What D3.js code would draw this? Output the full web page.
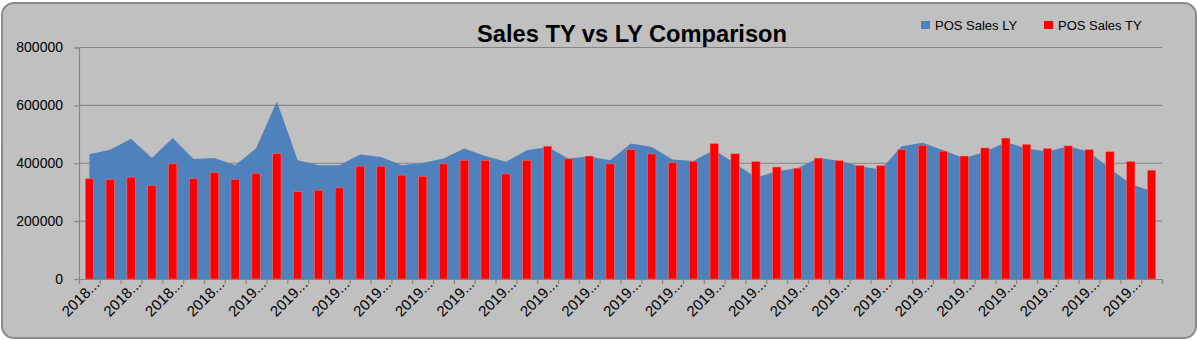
<!DOCTYPE html>
<html>
<head>
<meta charset="utf-8">
<script src="https://cdn.jsdelivr.net/npm/d3@7"></script>
<style>
  html, body { margin: 0; padding: 0; background: #ffffff; }
  svg { display: block; font-family: "Liberation Sans", Arial, sans-serif; }
</style>
</head>
<body>
<svg id="chart" width="1198" height="340"></svg>
<script>
// Weekly point-of-sale totals, this year vs last year (52 weeks)
const weekYears = [
  "2018","2018","2018","2018","2018","2018","2018","2018",
  "2019","2019","2019","2019","2019","2019","2019","2019","2019","2019",
  "2019","2019","2019","2019","2019","2019","2019","2019","2019","2019",
  "2019","2019","2019","2019","2019","2019","2019","2019","2019","2019",
  "2019","2019","2019","2019","2019","2019","2019","2019","2019","2019",
  "2019","2019","2019","2019"
];

const posSalesLY = [
  431000, 447000, 485000, 418000, 487000, 415000, 418000, 393000, 451000, 614000,
  410000, 393000, 393000, 430000, 422000, 393000, 401000, 416000, 451000, 425000,
  405000, 445000, 456000, 416000, 423000, 410000, 468000, 456000, 413000, 408000,
  447000, 399000, 351000, 372000, 383000, 418000, 409000, 390000, 378000, 459000,
  471000, 445000, 417000, 440000, 473000, 451000, 441000, 459000, 439000, 382000,
  328000, 303000
];

const posSalesTY = [
  347000, 344000, 352000, 324000, 398000, 347000, 368000, 344000, 365000, 434000,
  302000, 307000, 315000, 390000, 390000, 359000, 355000, 398000, 410000, 410000,
  363000, 410000, 459000, 415000, 425000, 398000, 447000, 432000, 403000, 406000,
  468000, 433000, 406000, 387000, 383000, 418000, 409000, 392000, 392000, 447000,
  462000, 442000, 425000, 453000, 487000, 465000, 451000, 460000, 447000, 440000,
  406000, 376000
];

const yTicks = [0, 200000, 400000, 600000, 800000];
const seriesNames = ["POS Sales LY", "POS Sales TY"];
const seriesColors = ["#4f81bd", "#ff0000"];
const chartTitle = "Sales TY vs LY Comparison";

const svg = d3.select("#chart");
const W = 1198, H = 340;
const plot = { left: 79, right: 1162, top: 47.5, bottom: 279 };
const gridColor = "#868686";

// Chart frame
svg.append("rect")
  .attr("x", 2).attr("y", 3)
  .attr("width", W - 4).attr("height", H - 5)
  .attr("rx", 12).attr("ry", 12)
  .attr("fill", "#c0c0c0")
  .attr("stroke", "#8b8b8b")
  .attr("stroke-width", 2);

const n = posSalesTY.length;
const x = d3.scaleBand()
  .domain(d3.range(n))
  .range([plot.left, plot.right])
  .paddingInner(0.6)
  .paddingOuter(0.3);
const xEdge = d3.scaleLinear().domain([0, n]).range([plot.left, plot.right]);
const y = d3.scaleLinear().domain([0, 800000]).range([plot.bottom, plot.top]);
const cx = i => x(i) + x.bandwidth() / 2;

// Horizontal gridlines
svg.append("g")
  .selectAll("line")
  .data(yTicks.filter(d => d > 0))
  .join("line")
  .attr("x1", plot.left).attr("x2", plot.right)
  .attr("y1", d => y(d)).attr("y2", d => y(d))
  .attr("stroke", gridColor)
  .attr("stroke-width", 1.2);

// Last year as a filled area
const area = d3.area()
  .x((d, i) => cx(i))
  .y0(y(0))
  .y1(d => y(d));
svg.append("path")
  .datum(posSalesLY)
  .attr("d", area)
  .attr("fill", seriesColors[0]);

// This year as columns
svg.append("g")
  .selectAll("rect")
  .data(posSalesTY)
  .join("rect")
  .attr("x", (d, i) => x(i))
  .attr("width", x.bandwidth())
  .attr("y", d => y(d))
  .attr("height", d => y(0) - y(d))
  .attr("fill", seriesColors[1])
  .attr("stroke", "#f47a7a")
  .attr("stroke-width", 0.5);

// Y axis
const yAxis = svg.append("g")
  .attr("transform", `translate(${plot.left},0)`)
  .call(d3.axisLeft(y).tickValues(yTicks).tickSize(5).tickPadding(11).tickFormat(d => String(d)));
yAxis.select(".domain").attr("stroke", gridColor).attr("stroke-width", 1.2);
yAxis.selectAll(".tick line").attr("stroke", gridColor).attr("stroke-width", 1.2);
yAxis.selectAll(".tick text")
  .attr("fill", "#000")
  .style("font-size", "14px")
  .style("font-family", "'Liberation Sans', Arial, sans-serif");

// X axis with a tick at every category boundary
const xAxis = svg.append("g")
  .attr("transform", `translate(0,${plot.bottom})`)
  .call(d3.axisBottom(xEdge).tickValues(d3.range(n + 1)).tickSize(5).tickFormat(""));
xAxis.select(".domain").attr("stroke", gridColor).attr("stroke-width", 1.2);
xAxis.selectAll(".tick line").attr("stroke", gridColor).attr("stroke-width", 1.2);

// Category labels on every second week, rotated
svg.append("g")
  .selectAll("text")
  .data(d3.range(0, n, 2))
  .join("text")
  .attr("transform", i => `translate(${cx(i) + 11},${plot.bottom + 6}) rotate(-45)`)
  .attr("text-anchor", "end")
  .attr("fill", "#000")
  .style("font-size", "15px")
  .text(i => weekYears[i] + "...");

// Title
svg.append("text")
  .attr("x", 632).attr("y", 42)
  .attr("text-anchor", "middle")
  .attr("fill", "#000")
  .style("font-size", "24px")
  .style("font-weight", "bold")
  .attr("textLength", 310)
  .attr("lengthAdjust", "spacingAndGlyphs")
  .text(chartTitle);

// Legend
const legendX = [921, 1044];
const legend = svg.append("g");
seriesNames.forEach((name, k) => {
  legend.append("rect")
    .attr("x", legendX[k]).attr("y", 21)
    .attr("width", 9).attr("height", 8)
    .attr("fill", seriesColors[k]);
  legend.append("text")
    .attr("x", legendX[k] + 14).attr("y", 29.5)
    .attr("fill", "#000")
    .style("font-size", "13px")
    .text(name);
});
</script>
</body>
</html>
